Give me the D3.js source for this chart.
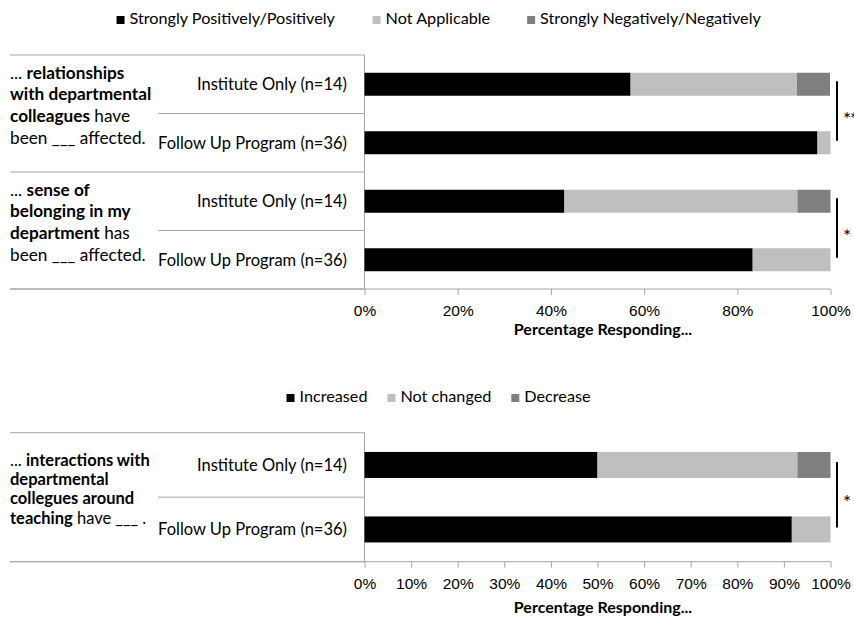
<!DOCTYPE html>
<html>
<head>
<meta charset="utf-8">
<script src="https://cdn.jsdelivr.net/npm/d3@7"></script>
<style>
  body { margin: 0; background: #fff; }
  svg { display: block; font-family: Lato, "Open Sans", sans-serif; }
  .axis text { font-size: 15.5px; fill: #000; }
  .axis line, .axis path { stroke: #a6a6a6; }
</style>
</head>
<body>
<div id="chart"></div>
<script>
// ---- data ----
var groups = ["Institute Only (n=14)", "Follow Up Program (n=36)"];

// chart 1 : two questions x two groups
var keys1 = ["Strongly Positively/Positively", "Not Applicable", "Strongly Negatively/Negatively"];
var positive1 = [57.1, 97.2, 42.9, 83.3];
var notApplicable1 = [35.7, 2.8, 50.0, 16.7];
var negative1 = [7.1, 0, 7.1, 0];
var sig1 = ["**", "*"];
var ticks1 = [0, 20, 40, 60, 80, 100];

// chart 2 : one question x two groups
var keys2 = ["Increased", "Not changed", "Decrease"];
var increased2 = [50.0, 91.7];
var notChanged2 = [42.9, 8.3];
var decrease2 = [7.1, 0];
var sig2 = ["*"];
var ticks2 = [0, 10, 20, 30, 40, 50, 60, 70, 80, 90, 100];

// question text, [text, bold] segments per line
var questions1 = [
  [[["... ", 0], ["relationships", 1]], [["with departmental", 1]], [["colleagues", 1], [" have", 0]], [["been ___ affected.", 0]]],
  [[["... ", 0], ["sense of", 1]], [["belonging in my", 1]], [["department", 1], [" has", 0]], [["been ___ affected.", 0]]]
];
var questions2 = [
  [[["... ", 0], ["interactions with", 1]], [["departmental", 1]], [["collegues around", 1]], [["teaching", 1], [" have ___ .", 0]]]
];
var axisTitle = "Percentage Responding...";
var colors = ["#000000", "#bfbfbf", "#7f7f7f"];

// ---- layout ----
var width = 854, height = 622;
var frameLeft = 10, innerLeft = 158;

var svg = d3.select("#chart").append("svg")
    .attr("width", width)
    .attr("height", height);

var xScale = d3.scaleLinear().domain([0, 100]).range([364.5, 830.5]);

function drawLegend(keys, cx, baseline, gap){
    var lg = svg.append("g").attr("class", "legend");
    var items = lg.selectAll("g.item").data(keys).enter().append("g").attr("class", "item");
    items.append("rect")
        .attr("width", 8).attr("height", 8)
        .attr("y", baseline - 8)
        .attr("fill", (d,i)=>colors[i]);
    items.append("text")
        .attr("x", 13)
        .attr("y", baseline)
        .attr("font-size", "16.2px")
        .text(d=>d);
    var pos = 0, xs = [];
    items.each(function(){
        xs.push(pos);
        pos += this.getBBox().width + gap;
    });
    var total = pos - gap;
    items.attr("transform", (d,i)=>"translate(" + (cx - total/2 + xs[i]) + ",0)");
}

function drawChart(opt){
    var n = opt.series[0].length;
    var rows = d3.range(n);
    var yScale = d3.scaleBand()
        .domain(rows)
        .range([opt.top, opt.bottom])
        .paddingInner(opt.pad)
        .paddingOuter(opt.pad/2);
    var step = yScale.step();

    var table = rows.map(function(r){
        var o = {row: r};
        opt.keys.forEach(function(k, j){ o[k] = opt.series[j][r]; });
        return o;
    });
    var stacked = d3.stack().keys(opt.keys)(table);

    var g = svg.append("g").attr("class", "chart");

    // frame lines on the category side
    var perQ = groups.length;
    var nq = n / perQ;
    var frame = [];
    for (var q = 0; q <= nq; q++){
        frame.push({y: opt.top + q*perQ*step, x1: frameLeft});
        if (q < nq){
            for (var s = 1; s < perQ; s++) frame.push({y: opt.top + (q*perQ + s)*step, x1: innerLeft});
        }
    }
    g.selectAll("line.frame").data(frame).enter().append("line")
        .attr("class", "frame")
        .attr("x1", d=>d.x1).attr("x2", xScale(0))
        .attr("y1", d=>d.y).attr("y2", d=>d.y)
        .attr("stroke", "#a6a6a6");
    g.append("line")
        .attr("x1", xScale(0)).attr("x2", xScale(0))
        .attr("y1", opt.top).attr("y2", opt.bottom)
        .attr("stroke", "#a6a6a6");

    // bars
    g.selectAll("g.layer").data(stacked).enter().append("g")
        .attr("class", "layer")
        .attr("fill", (d,i)=>colors[i])
        .selectAll("rect").data(d=>d).enter().append("rect")
        .attr("x", d=>xScale(d[0]))
        .attr("width", d=>xScale(d[1]) - xScale(d[0]))
        .attr("y", (d,i)=>yScale(i))
        .attr("height", yScale.bandwidth());

    // group labels
    g.selectAll("text.grp").data(rows).enter().append("text")
        .attr("class", "grp")
        .attr("x", 347)
        .attr("y", r=>yScale(r) + yScale.bandwidth()/2)
        .attr("dy", "0.36em")
        .attr("text-anchor", "end")
        .attr("font-size", "16.5px")
        .text(r=>groups[r % perQ]);

    // question labels
    opt.questions.forEach(function(lines, q){
        var mid = opt.top + (q + 0.5)*perQ*step - 8.5;
        var y0 = mid - (lines.length - 1)/2*opt.lh;
        var t = g.append("text").attr("font-size", opt.qsize);
        lines.forEach(function(segs, li){
            segs.forEach(function(s, si){
                var ts = t.append("tspan").text(s[0]).attr("font-weight", s[1] ? "bold" : "normal");
                if (si === 0) ts.attr("x", frameLeft).attr("y", y0 + li*opt.lh).attr("dy", "0.36em");
            });
        });
    });

    // significance brackets
    opt.sig.forEach(function(s, q){
        var c0 = yScale(q*perQ) + yScale.bandwidth()/2;
        var c1 = yScale(q*perQ + perQ - 1) + yScale.bandwidth()/2;
        g.append("line")
            .attr("x1", 837).attr("x2", 837)
            .attr("y1", c0 - 3).attr("y2", c1 - 2)
            .attr("stroke", "#000").attr("stroke-width", 2);
        g.append("text")
            .attr("x", 843)
            .attr("y", (c0 + c1)/2 + 12)
            .attr("font-size", "19px")
            .attr("letter-spacing", "-1px")
            .text(s);
    });

    // axis
    var xAxis = d3.axisBottom(xScale)
        .tickValues(opt.ticks)
        .tickFormat(d=>d + "%")
        .tickSize(6)
        .tickSizeOuter(0)
        .tickPadding(opt.tickPad);
    var ax = g.append("g")
        .attr("class", "axis x-axis")
        .attr("transform", "translate(0," + opt.bottom + ")")
        .call(xAxis);
    ax.select(".domain").attr("d", "M" + frameLeft + ",0H" + xScale(100));

    g.append("text")
        .attr("x", 603)
        .attr("y", opt.bottom + opt.titleOff)
        .attr("text-anchor", "middle")
        .attr("font-size", "16px")
        .attr("font-weight", "bold")
        .text(axisTitle);
}

drawLegend(keys1, 439, 24, 37);
drawChart({
    keys: keys1,
    series: [positive1, notApplicable1, negative1],
    questions: questions1,
    sig: sig1,
    ticks: ticks1,
    top: 55, bottom: 289, pad: 0.607, lh: 21.7, qsize: "17.2px",
    tickPad: 10, titleOff: 46
});

drawLegend(keys2, 438.5, 402, 20);
drawChart({
    keys: keys2,
    series: [increased2, notChanged2, decrease2],
    questions: questions2,
    sig: sig2,
    ticks: ticks2,
    top: 432.7, bottom: 561.7, pad: 0.597, lh: 19.4, qsize: "16.5px",
    tickPad: 10.5, titleOff: 51
});
</script>
</body>
</html>
